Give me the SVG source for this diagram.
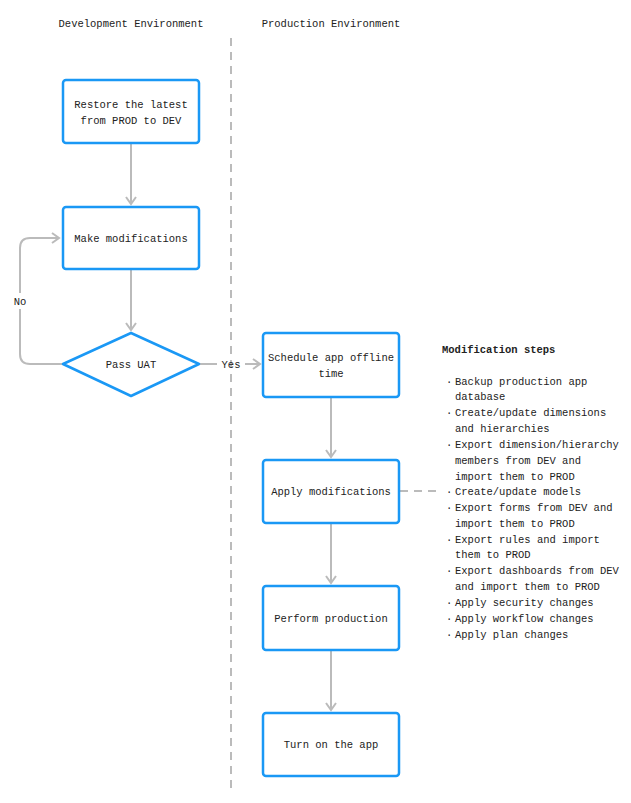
<svg xmlns="http://www.w3.org/2000/svg" width="631" height="803" viewBox="0 0 631 803">
<defs>
<style>
text{font-family:"Liberation Mono","DejaVu Sans Mono",monospace;font-size:10.5px;fill:#222}
.n{fill:#fff;stroke:#1a98f5;stroke-width:2.5}
.c{fill:none;stroke:#bbb;stroke-width:2}
.m{text-anchor:middle}
</style>
<marker id="a" markerWidth="12" markerHeight="12" refX="9" refY="6" orient="auto" markerUnits="userSpaceOnUse"><path d="M2,1 L9,6 L2,11" fill="none" stroke="#bbb" stroke-width="2"/></marker>
</defs>
<rect width="631" height="803" fill="#fff"/>
<text x="131" y="27" class="m">Development Environment</text>
<text x="331" y="27" class="m">Production Environment</text>
<line x1="231" y1="38" x2="231" y2="792" stroke="#bbb" stroke-width="2" stroke-dasharray="8,6"/>
<g id="connectors">
<path class="c" d="M131,144 V204" marker-end="url(#a)"/>
<path class="c" d="M131,270 V330" marker-end="url(#a)"/>
<path class="c" d="M63,364 H30 Q20,364 20,354 V248 Q20,238 30,238 H59" marker-end="url(#a)"/>
<rect x="10" y="293" width="20" height="16" fill="#fff"/>
<text x="20" y="305" class="m">No</text>
<path class="c" d="M199,364 H217 M245,364 H260" marker-end="url(#a)"/>
<text x="231" y="368" class="m">Yes</text>
<path class="c" d="M331,398 V457" marker-end="url(#a)"/>
<path class="c" d="M331,524 V583" marker-end="url(#a)"/>
<path class="c" d="M331,651 V710" marker-end="url(#a)"/>
<path class="c" d="M400,491 H442" stroke-dasharray="8,6"/>
</g>
<g id="restore"><rect class="n" x="63" y="80" width="136" height="63" rx="3"/><text x="131" y="108" class="m">Restore the latest</text><text x="131" y="124" class="m">from PROD to DEV</text></g>
<g id="make"><rect class="n" x="63" y="207" width="136" height="62" rx="3"/><text x="131" y="242" class="m">Make modifications</text></g>
<g id="uat"><path class="n" d="M131,333 L199,364 L131,396 L63,364 Z" stroke-linejoin="round"/><text x="131" y="368" class="m">Pass UAT</text></g>
<g id="schedule"><rect class="n" x="263" y="333" width="136" height="64" rx="3"/><text x="331" y="361" class="m">Schedule app offline</text><text x="331" y="377" class="m">time</text></g>
<g id="apply"><rect class="n" x="263" y="460" width="136" height="63" rx="3"/><text x="331" y="495" class="m">Apply modifications</text></g>
<g id="perform"><rect class="n" x="263" y="586" width="136" height="64" rx="3"/><text x="331" y="622" class="m">Perform production</text></g>
<g id="turnon"><rect class="n" x="263" y="713" width="136" height="63" rx="3"/><text x="331" y="748" class="m">Turn on the app</text></g>
<g id="steps">
<text x="442" y="353" font-weight="bold">Modification steps</text>
<text x="446" y="385">·</text><text x="455" y="385">Backup production app</text>
<text x="455" y="400">database</text>
<text x="446" y="416">·</text><text x="455" y="416">Create/update dimensions</text>
<text x="455" y="432">and hierarchies</text>
<text x="446" y="448">·</text><text x="455" y="448">Export dimension/hierarchy</text>
<text x="455" y="464">members from DEV and</text>
<text x="455" y="480">import them to PROD</text>
<text x="446" y="495">·</text><text x="455" y="495">Create/update models</text>
<text x="446" y="511">·</text><text x="455" y="511">Export forms from DEV and</text>
<text x="455" y="527">import them to PROD</text>
<text x="446" y="543">·</text><text x="455" y="543">Export rules and import</text>
<text x="455" y="558">them to PROD</text>
<text x="446" y="574">·</text><text x="455" y="574">Export dashboards from DEV</text>
<text x="455" y="590">and import them to PROD</text>
<text x="446" y="606">·</text><text x="455" y="606">Apply security changes</text>
<text x="446" y="622">·</text><text x="455" y="622">Apply workflow changes</text>
<text x="446" y="638">·</text><text x="455" y="638">Apply plan changes</text>
</g>
</svg>
